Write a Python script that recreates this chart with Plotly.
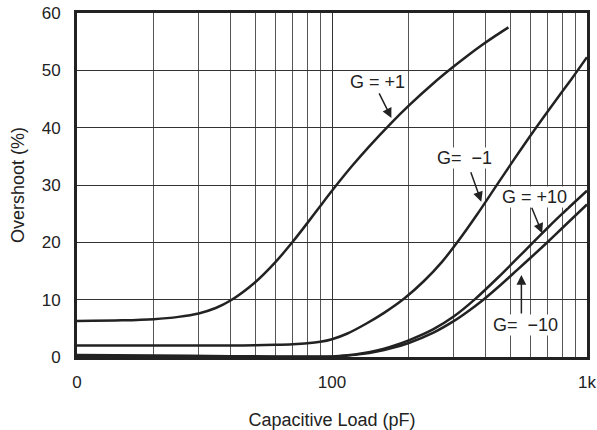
import math
import plotly.graph_objects as go

# ---- data ----
cap_g1 = [10, 15, 20, 25, 30, 35, 40, 50, 60, 70, 80, 90, 100, 120, 140, 171, 200, 250, 294, 340, 390, 440, 492]
ovs_g1 = [6.3, 6.4, 6.6, 7.0, 7.6, 8.55, 9.85, 13.05, 16.55, 20.05, 23.35, 26.35, 29.0, 33.35, 36.75, 40.85, 43.85, 47.75, 50.35, 52.55, 54.5, 56.1, 57.5]

cap_gm1 = [10, 20, 30, 40, 50, 60, 70, 80, 90, 100, 115, 136, 160, 192, 230, 270, 310, 370, 440, 520, 622, 744, 870, 1000]
ovs_gm1 = [2.0, 2.0, 2.0, 2.0, 2.05, 2.12, 2.22, 2.38, 2.65, 3.1, 4.1, 5.8, 7.7, 10.2, 13.3, 16.6, 20.0, 24.8, 29.8, 34.6, 39.6, 44.4, 48.5, 52.3]

cap_g10 = [10, 20, 40, 60, 100, 115, 130, 150, 170, 200, 250, 300, 362, 450, 530, 604, 700, 800, 1000]
ovs_g10 = [0.35, 0.25, 0.15, 0.1, 0.1, 0.3, 0.6, 1.15, 1.8, 2.9, 4.85, 7.05, 10.0, 13.95, 17.1, 19.65, 22.5, 25.0, 29.0]

cap_gm10 = [10, 50, 100, 115, 130, 150, 170, 200, 250, 300, 340, 390, 450, 530, 604, 691, 800, 1000]
ovs_gm10 = [0.0, 0.0, 0.05, 0.25, 0.5, 0.95, 1.5, 2.45, 4.25, 6.25, 7.9, 9.9, 12.25, 15.1, 17.4, 19.8, 22.5, 26.6]

x_tickvals = [10, 100, 1000]
x_ticktext = ["0", "100", "1k"]
x_minor = [20, 30, 40, 50, 60, 70, 80, 90, 200, 300, 400, 500, 600, 700, 800, 900]
y_tickvals = [0, 10, 20, 30, 40, 50, 60]

labels = ["G = +1", "G=\u00a0\u00a0\u22121", "G = +10", "G=\u00a0\u00a0\u221210"]
label_x = [151, 330, 622, 574]
label_y = [48.0, 34.7, 27.9, 5.6]
arrow_x = [171, 385, 667, 553]
arrow_y = [41.7, 27.1, 21.6, 14.3]
arrow_ax = [-13, -11, -11, 0]
arrow_ay = [-26, -31, -27, 40]

LINE = "#222222"
FONT = "Liberation Sans, Arial, sans-serif"

fig = go.Figure()
for cx, oy in [(cap_g1, ovs_g1), (cap_gm1, ovs_gm1), (cap_g10, ovs_g10), (cap_gm10, ovs_gm10)]:
    fig.add_trace(go.Scatter(x=cx, y=oy, mode="lines", line=dict(color=LINE, width=2.5, shape="spline", smoothing=0.8),
                             showlegend=False, hoverinfo="skip"))

for t, lx, ly in zip(labels, label_x, label_y):
    fig.add_annotation(x=math.log10(lx), y=ly, xref="x", yref="y", text=t, showarrow=False,
                       bgcolor="white", font=dict(size=18, color=LINE, family=FONT), borderpad=0)
for hx, hy, ax, ay in zip(arrow_x, arrow_y, arrow_ax, arrow_ay):
    fig.add_annotation(x=math.log10(hx), y=hy, xref="x", yref="y", text="", showarrow=True,
                       ax=ax, ay=ay, arrowhead=2, arrowsize=1.3, arrowwidth=1.5, arrowcolor=LINE, standoff=0)

fig.update_xaxes(type="log", range=[1, 3], tickvals=x_tickvals, ticktext=x_ticktext, automargin=False,
                 showgrid=True, gridcolor="#333333", gridwidth=1.2,
                 minor=dict(tickvals=x_minor, showgrid=True, gridcolor="#555555", gridwidth=1.2, ticks=""),
                 showline=True, mirror=True, linecolor=LINE, linewidth=3, zeroline=False,
                 ticks="", ticklabelstandoff=8,
                 tickfont=dict(size=17, color=LINE, family=FONT),
                 title=dict(text="Capacitive Load (pF)", font=dict(size=18, color=LINE, family=FONT), standoff=22))
fig.update_yaxes(range=[0, 60], tickvals=y_tickvals, automargin=False,
                 showgrid=True, gridcolor="#333333", gridwidth=1.2,
                 showline=True, mirror=True, linecolor=LINE, linewidth=3, zeroline=False,
                 ticks="", ticklabelstandoff=10,
                 tickfont=dict(size=17, color=LINE, family=FONT),
                 title=dict(text="Overshoot (%)", font=dict(size=18, color=LINE, family=FONT), standoff=13))
fig.update_layout(width=597, height=430, margin=dict(l=77, r=10, t=13, b=73),
                  paper_bgcolor="white", plot_bgcolor="white")
fig.write_html("out.html")
